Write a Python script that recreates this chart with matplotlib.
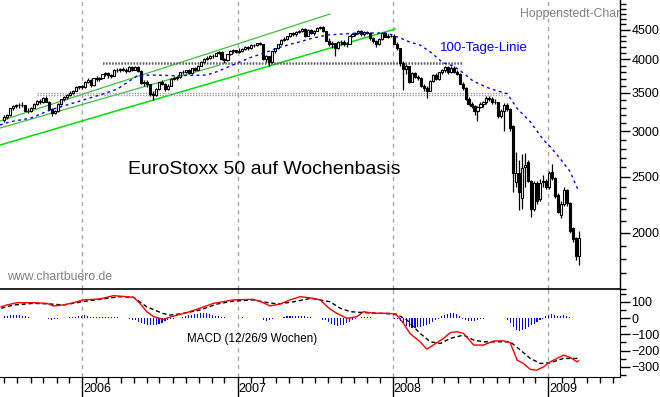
import matplotlib
matplotlib.use('Agg')
import matplotlib.pyplot as plt
import matplotlib.dates as mdates
import matplotlib.ticker as mticker
import matplotlib.transforms as mtrans
import numpy as np
import pandas as pd

plt.rcParams['font.family'] = ['Liberation Sans', 'DejaVu Sans']
plt.rcParams['font.size'] = 9

# weekly candles, Friday dates
weeks = pd.date_range('2005-07-01', periods=194, freq='7D')

opens = [3140, 3180, 3200, 3290, 3320, 3330, 3340, 3330, 3260, 3250, 3300, 3350, 3390, 3370, 3430, 3380, 3280, 3230, 3250, 3350,
         3410, 3440, 3470, 3500, 3530, 3580, 3590,
         3580, 3660, 3690, 3610, 3710, 3700, 3710, 3770, 3790, 3760, 3750, 3840, 3830, 3850, 3840, 3820, 3880, 3840, 3880, 3820,
         3640, 3650, 3620, 3490, 3470, 3560, 3650, 3630, 3560, 3600, 3700, 3710, 3730, 3800, 3810, 3830, 3790, 3860, 3840, 3900,
         3960, 4010, 4030, 4050, 4060, 4100, 4120, 4000, 3990, 4080, 4140, 4150,
         4120, 4140, 4170, 4200, 4180, 4240, 4230, 4270, 4250, 4010, 4050, 3960, 4130, 4180, 4250, 4330, 4340, 4390, 4440, 4420,
         4470, 4480, 4520, 4400, 4500, 4440, 4490, 4530, 4560, 4480, 4310, 4260, 4270, 4180, 4290, 4290, 4250, 4260, 4400, 4420,
         4450, 4480, 4420, 4470, 4450, 4350, 4310, 4250, 4340, 4450, 4380, 4400,
         4400, 4260, 4180, 3950, 3850, 3890, 3660, 3790, 3730, 3720, 3600, 3570, 3530, 3670, 3760, 3700, 3800, 3830, 3880, 3800,
         3870, 3810, 3780, 3630, 3570, 3420, 3350, 3320, 3260, 3310, 3350, 3370, 3430, 3420, 3380, 3370, 3190, 3250, 3340, 3280,
         3060, 2450, 2540, 2300, 2600, 2650, 2460, 2200, 2440, 2290, 2450, 2460,
         2400, 2550, 2490, 2330, 2150, 2240, 2370, 2250, 2040, 1960, 1820]
highs = [3200, 3220, 3300, 3340, 3350, 3360, 3370, 3340, 3290, 3310, 3360, 3400, 3410, 3440, 3460, 3390, 3300, 3270, 3360, 3420,
         3450, 3480, 3520, 3540, 3590, 3600, 3610,
         3670, 3720, 3700, 3720, 3740, 3730, 3780, 3800, 3810, 3780, 3850, 3870, 3870, 3880, 3860, 3890, 3900, 3900, 3890, 3830,
         3690, 3680, 3630, 3520, 3570, 3660, 3680, 3640, 3620, 3710, 3740, 3750, 3810, 3830, 3840, 3850, 3870, 3880, 3910, 3970,
         4020, 4050, 4070, 4080, 4110, 4140, 4130, 4020, 4090, 4150, 4170, 4160,
         4180, 4190, 4220, 4220, 4250, 4260, 4280, 4290, 4260, 4070, 4060, 4140, 4190, 4260, 4340, 4370, 4400, 4450, 4460, 4480,
         4500, 4540, 4530, 4510, 4520, 4500, 4550, 4580, 4570, 4490, 4350, 4300, 4280, 4300, 4320, 4330, 4290, 4410, 4430, 4460,
         4500, 4500, 4480, 4490, 4460, 4370, 4330, 4350, 4460, 4470, 4420, 4430,
         4420, 4290, 4190, 3980, 3920, 3900, 3800, 3810, 3760, 3730, 3630, 3600, 3690, 3770, 3790, 3810, 3850, 3890, 3900, 3900,
         3890, 3830, 3790, 3650, 3580, 3440, 3380, 3340, 3320, 3370, 3390, 3450, 3460, 3440, 3420, 3380, 3280, 3360, 3360, 3300,
         3080, 2760, 2680, 2740, 2750, 2680, 2470, 2460, 2460, 2480, 2520, 2480,
         2560, 2630, 2500, 2340, 2270, 2400, 2380, 2260, 2050, 1970, 2010]
lows = [3120, 3150, 3190, 3270, 3290, 3300, 3310, 3250, 3230, 3240, 3290, 3330, 3350, 3360, 3370, 3270, 3190, 3210, 3240, 3340,
        3390, 3420, 3460, 3480, 3520, 3560, 3560,
        3570, 3640, 3580, 3600, 3670, 3670, 3700, 3750, 3720, 3710, 3740, 3810, 3810, 3820, 3790, 3810, 3820, 3830, 3800, 3620,
        3600, 3580, 3460, 3400, 3450, 3540, 3610, 3530, 3540, 3590, 3680, 3690, 3720, 3780, 3790, 3770, 3780, 3820, 3830, 3890,
        3950, 3990, 4010, 4020, 4050, 4080, 3990, 3940, 3980, 4070, 4110, 4100,
        4110, 4120, 4160, 4150, 4170, 4200, 4220, 4240, 3990, 3960, 3900, 3950, 4110, 4170, 4240, 4300, 4320, 4380, 4390, 4400,
        4450, 4470, 4380, 4390, 4420, 4410, 4480, 4520, 4460, 4300, 4220, 4180, 4060, 4170, 4240, 4220, 4210, 4250, 4370, 4400,
        4430, 4390, 4400, 4420, 4330, 4280, 4200, 4240, 4330, 4370, 4350, 4380,
        4250, 4160, 3900, 3540, 3780, 3640, 3650, 3710, 3680, 3580, 3520, 3430, 3520, 3650, 3680, 3680, 3780, 3810, 3780, 3790,
        3790, 3760, 3620, 3540, 3400, 3330, 3300, 3200, 3130, 3290, 3310, 3350, 3390, 3350, 3350, 3170, 3160, 3000, 3250, 3000,
        2350, 2400, 2190, 2200, 2400, 2450, 2130, 2180, 2240, 2270, 2400, 2380,
        2380, 2470, 2300, 2160, 2120, 2230, 2230, 2000, 1930, 1790, 1760]
closes = [3180, 3200, 3290, 3320, 3330, 3340, 3330, 3260, 3250, 3300, 3350, 3390, 3370, 3430, 3380, 3280, 3230, 3250, 3350, 3410,
          3440, 3470, 3500, 3530, 3580, 3590, 3580,
          3660, 3690, 3610, 3710, 3700, 3710, 3770, 3790, 3760, 3750, 3840, 3830, 3850, 3840, 3820, 3880, 3840, 3880, 3820, 3640,
          3650, 3620, 3490, 3470, 3560, 3650, 3630, 3560, 3600, 3700, 3710, 3730, 3800, 3810, 3830, 3790, 3860, 3840, 3900, 3960,
          4010, 4030, 4050, 4060, 4100, 4120, 4000, 3990, 4080, 4140, 4150, 4120,
          4140, 4170, 4200, 4180, 4240, 4230, 4270, 4250, 4010, 4050, 3960, 4130, 4180, 4250, 4330, 4340, 4390, 4440, 4420, 4470,
          4480, 4520, 4400, 4500, 4440, 4490, 4530, 4560, 4480, 4310, 4260, 4270, 4180, 4290, 4290, 4250, 4260, 4400, 4420, 4450,
          4480, 4420, 4470, 4450, 4350, 4310, 4250, 4340, 4450, 4380, 4400, 4400,
          4260, 4180, 3950, 3850, 3890, 3660, 3790, 3730, 3720, 3600, 3570, 3530, 3670, 3760, 3700, 3800, 3830, 3880, 3800, 3870,
          3810, 3780, 3630, 3570, 3420, 3350, 3320, 3260, 3310, 3350, 3370, 3430, 3420, 3380, 3370, 3190, 3250, 3340, 3280, 3040,
          2540, 2540, 2350, 2590, 2620, 2460, 2200, 2440, 2270, 2440, 2460, 2400,
          2540, 2490, 2320, 2170, 2240, 2370, 2250, 2010, 1950, 1820, 1960]

# 100-Tage-Linie
ma_dates = ['2005-06-21', '2005-07-15', '2005-08-31', '2005-10-17', '2006-01-03', '2006-02-11', '2006-03-23',
            '2006-05-09', '2006-06-09', '2006-08-07', '2006-10-20', '2006-11-13', '2006-12-30', '2007-01-30',
            '2007-03-02', '2007-04-03', '2007-05-04', '2007-05-28', '2007-06-27', '2007-07-30', '2007-09-06',
            '2007-10-16', '2007-11-25', '2007-12-18', '2008-01-18', '2008-02-10', '2008-03-05', '2008-03-29',
            '2008-04-28', '2008-05-22', '2008-06-14', '2008-07-08', '2008-08-17', '2008-09-26', '2008-10-19',
            '2008-11-19', '2008-12-20', '2009-01-05', '2009-01-28', '2009-02-21', '2009-03-03', '2009-03-12']
ma_vals = [3077, 3118, 3161, 3267, 3401, 3470, 3549, 3743, 3758, 3748, 3758, 3808, 3938, 4028, 4099, 4182, 4249,
           4294, 4358, 4410, 4428, 4445, 4445, 4445, 4358, 4287, 4236, 4122, 3946, 3898, 3792, 3667, 3557, 3487,
           3289, 3118, 2900, 2822, 2694, 2553, 2452, 2372]

# MACD (12/26/9) and signal line
macd_dates = ['2005-06-24', '2005-07-07', '2005-07-31', '2005-09-08', '2005-10-09', '2005-10-25', '2005-11-17',
              '2005-12-11', '2006-01-03', '2006-02-11', '2006-03-15', '2006-04-15', '2006-05-01', '2006-05-16',
              '2006-06-01', '2006-06-17', '2006-07-10', '2006-08-03', '2006-09-03', '2006-10-04', '2006-11-05',
              '2006-12-22', '2007-02-07', '2007-03-02', '2007-03-18', '2007-04-11', '2007-05-04', '2007-05-28',
              '2007-06-28', '2007-07-14', '2007-08-06', '2007-08-22', '2007-09-15', '2007-10-08', '2007-10-24',
              '2007-11-16', '2007-12-02', '2007-12-25', '2008-01-10', '2008-01-26', '2008-02-10', '2008-03-05',
              '2008-03-21', '2008-04-05', '2008-04-29', '2008-05-15', '2008-05-30', '2008-06-15', '2008-07-09',
              '2008-08-01', '2008-08-25', '2008-09-17', '2008-10-03', '2008-10-19', '2008-11-03', '2008-11-19',
              '2008-12-04', '2008-12-20', '2009-01-05', '2009-01-21', '2009-02-05', '2009-02-21', '2009-03-09',
              '2009-03-13']
macd_vals = [69, 80, 94, 94, 90, 74, 80, 94, 111, 117, 137, 131, 127, 90, 39, 8, -8, 12, 33, 60, 90, 111,
             115, 94, 74, 86, 111, 131, 121, 111, 55, 29, -2, 8, 39, 29, 29, 29,
             18, -33, -94, -146, -191, -166, -125, -90, -84, -94, -166, -166, -141, -140, -152, -258, -279, -315,
             -320, -300, -269, -248, -228, -242, -269, -262]
sig_dates = ['2005-06-24', '2005-07-23', '2005-09-08', '2005-10-17', '2005-11-17', '2005-12-31', '2006-02-11',
             '2006-03-30', '2006-05-01', '2006-06-01', '2006-07-08', '2006-07-26', '2006-08-19', '2006-10-04',
             '2006-11-14', '2006-12-22', '2007-02-07', '2007-03-14', '2007-04-06', '2007-05-14', '2007-06-22',
             '2007-08-06', '2007-08-30', '2007-09-23', '2007-10-24', '2007-12-02', '2008-01-10', '2008-02-03',
             '2008-03-05', '2008-03-29', '2008-04-22', '2008-05-15', '2008-06-15', '2008-07-09', '2008-08-01',
             '2008-09-01', '2008-10-03', '2008-10-27', '2008-11-19', '2008-12-13', '2009-01-05', '2009-02-05',
             '2009-03-13']
sig_vals = [60, 80, 90, 86, 80, 100, 115, 131, 127, 69, 29, 18, 25, 49, 86, 104, 111, 94, 86, 100, 121, 100,
            60, 39, 33, 29, 23, -12, -94, -146, -156, -125, -105, -135, -146, -146, -146, -197, -248, -279,
            -275, -248, -248]
hist_vals = [10, 14, 18, 20, 20, 18, 15, 12, 5, 3, 2, 2, 3, 2, -3, -8, -10, -8, -4, 2, 3, 3, 5, 6, 8, 10,
             15, 16, 12, 6, 8, 6, 5, 8, 8, 6, 5, 8, 4, 3, 2, 0,
             -5, -10, -15, -22, -28, -35, -40, -45, -45, -40, -35, -28, -20, -12, -8, -5, -3,
             3, 8, 12, 16, 20, 24, 27, 30, 30, 28, 24, 20, 15, 10, 6, 4, 3, 2,
             3, 2, 3, 4, 3, 2, 3, 2, 2, 0, -15, -18, -12, -8, -3, 0, 2,
             8, 10, 12, 14, 15, 14, 12, 10, 8, 6, 3, 2, 0, -10, -15, -22,
             -35, -45, -48, -45, -40, -32, -22, -12, -5, 3, 4, 5, 5, 4, 3, 3, 2, 2, 3, -3, -3, -4,
             -8, -20, -35, -50, -58, -60, -60, -58, -55, -50, -42, -35, -25, -15, -5,
             10, 18, 25, 30, 28, 22, 12, -5, -12, -18, -20, -18, -14, -8, -4, 3, 3, 2, 3, 2, 2,
             -3, -10, -30, -55, -72, -80, -75, -65, -55, -45, -35, -25, -15, -6,
             10, 20, 25, 18, 12, 15, 18, 12, 8, 3, 2, 2]

# trend lines (start date, start value, end date, end value)
trend_long = ['2005-06-21', 2840, '2008-01-06', 4517]
trend_a = ['2005-06-21', 3127, '2007-08-06', 4797]
trend_b = ['2005-06-21', 3040, '2006-11-20', 3912]
# horizontal support / resistance
res_upper = ['2006-02-18', '2008-06-12', 3946, 3926]
res_lower = ['2005-09-17', '2008-09-26', 3497, 3472]

year_labels = ['2006', '2007', '2008', '2009']
price_ticks = [2000, 2500, 3000, 3500, 4000, 4500]
macd_ticks = [-300, -200, -100, 0, 100]

o = np.array(opens); h = np.array(highs); l = np.array(lows); c = np.array(closes)
up = c >= o

W, H = 660, 397
fig = plt.figure(figsize=(W / 100, H / 100), dpi=100)
ax = fig.add_axes([0, 108 / H, 619.5 / W, 289 / H])
axm = fig.add_axes([0, 20 / H, 619.5 / W, 88 / H], sharex=ax)
ax.patch.set_visible(False)
axm.patch.set_visible(False)

xmin, xmax = pd.Timestamp('2005-06-21'), pd.Timestamp('2009-06-17')

# year grid
for yl in year_labels:
    d = pd.Timestamp(yl + '-01-01')
    for a in (ax, axm):
        a.axvline(d, color='#a8a8a8', lw=1, ls=(0, (3, 3)), zorder=0)

# candles
ax.vlines(weeks, l, h, color='black', lw=0.9, zorder=2)
ax.bar(weeks[up], (c - o)[up], bottom=o[up], width=5, facecolor='white', edgecolor='black', lw=0.8, zorder=3)
ax.bar(weeks[~up], (o - c)[~up], bottom=c[~up], width=5, facecolor='black', edgecolor='black', lw=0.8, zorder=3)

# MA
ax.plot(pd.to_datetime(ma_dates), ma_vals, color='#0000ff', lw=1, ls=(0, (2, 2.5)), zorder=4)

# trend lines
for tl, col, lw in [(trend_long, '#00e000', 1.1), (trend_a, '#40c040', 0.9), (trend_b, '#40c040', 0.9)]:
    ax.plot(pd.to_datetime([tl[0], tl[2]]), [tl[1], tl[3]], color=col, lw=lw, zorder=1)

# horizontal bands
ax.hlines(res_upper[2:], pd.Timestamp(res_upper[0]), pd.Timestamp(res_upper[1]),
          colors='#606060', lw=1.1, ls=(0, (1, 1)), zorder=1)
ax.hlines(res_lower[2:], pd.Timestamp(res_lower[0]), pd.Timestamp(res_lower[1]),
          colors='#a0a0a0', lw=1.0, ls=(0, (1, 1)), zorder=1)

ax.set_yscale('log')
ax.set_ylim(1597, 5073)
ax.set_xlim(xmin, xmax)
ax.yaxis.tick_right()
ax.yaxis.set_major_locator(mticker.FixedLocator(price_ticks))
ax.yaxis.set_major_formatter(mticker.FixedFormatter([str(t) for t in price_ticks]))
ax.yaxis.set_minor_locator(mticker.FixedLocator(list(range(1600, 5100, 100))))
ax.yaxis.set_minor_formatter(mticker.NullFormatter())
ax.tick_params(axis='y', which='major', length=7, width=1, pad=1.5, labelsize=9)
ax.tick_params(axis='y', which='minor', length=4, width=1)
ax.tick_params(axis='x', which='both', length=0, labelbottom=False)
for s in ('left', 'top'):
    ax.spines[s].set_visible(False)
ax.spines['right'].set_linewidth(1)
ax.spines['bottom'].set_linewidth(1.2)
ax.spines['bottom'].set_color('black')
ax.spines['bottom'].set_zorder(10)

# texts in the price panel
ax.text(128 / 619.5, 1 - 170 / 289, 'EuroStoxx 50 auf Wochenbasis', transform=ax.transAxes,
        fontsize=14, ha='left', va='center')
ax.text(440 / 619.5, 1 - 48 / 289, '100-Tage-Linie', transform=ax.transAxes,
        fontsize=9.5, color='#0000ff', ha='left', va='center')
ax.text(520 / 619.5, 1 - 14 / 289, 'Hoppenstedt-Chart', transform=ax.transAxes,
        fontsize=8.8, color='#808080', ha='left', va='center', clip_on=True)
ax.text(7 / 619.5, 1 - 277 / 289, 'www.chartbuero.de', transform=ax.transAxes,
        fontsize=8.8, color='#808080', ha='left', va='center')

# MACD panel
axm.bar(weeks, hist_vals, width=2.5, color='#0000ff', lw=0, zorder=2)
axm.plot(pd.to_datetime(sig_dates), sig_vals, color='black', lw=1, ls=(0, (3, 2)), zorder=3)
axm.plot(pd.to_datetime(macd_dates), macd_vals, color='#ff0000', lw=1, zorder=4)
axm.set_ylim(-362, 178)
axm.yaxis.tick_right()
axm.yaxis.set_major_locator(mticker.FixedLocator(macd_ticks))
axm.yaxis.set_minor_locator(mticker.MultipleLocator(50))
axm.yaxis.set_minor_formatter(mticker.NullFormatter())
axm.tick_params(axis='y', which='major', length=7, width=1, pad=1.5, labelsize=9)
axm.tick_params(axis='y', which='minor', length=4, width=1)
for s in ('left', 'top'):
    axm.spines[s].set_visible(False)
axm.text(187 / 619.5, 0.432, 'MACD (12/26/9 Wochen)', transform=axm.transAxes,
         fontsize=8.4, ha='left', va='center')

axm.xaxis.set_major_locator(mdates.YearLocator())
axm.xaxis.set_minor_locator(mdates.MonthLocator())
axm.xaxis.set_major_formatter(mticker.NullFormatter())
axm.tick_params(axis='x', which='major', length=14.4, width=1)
axm.tick_params(axis='x', which='minor', length=4.3, width=1)
trans = mtrans.blended_transform_factory(axm.transData, axm.transAxes)
for yl in year_labels:
    axm.text(pd.Timestamp(yl + '-01-02'), -0.14, yl, transform=trans, fontsize=9, ha='left', va='center')

fig.savefig('out.png', dpi=100, facecolor='white')
